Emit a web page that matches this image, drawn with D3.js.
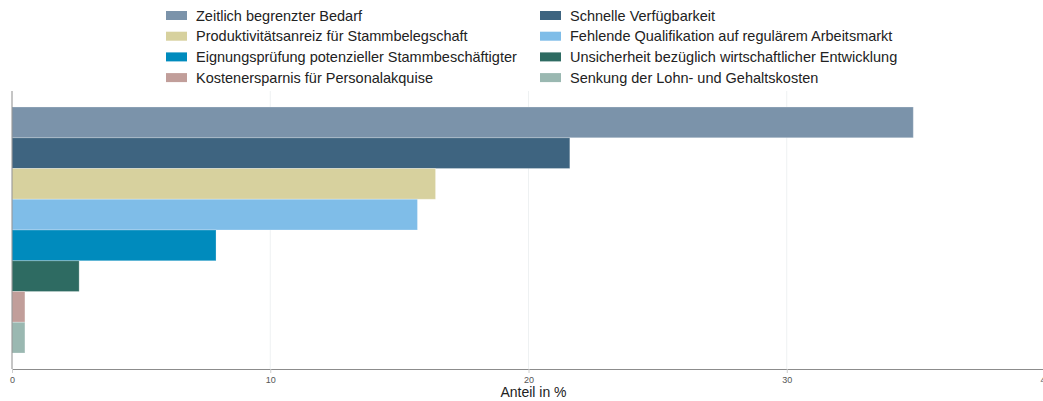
<!DOCTYPE html>
<html>
<head>
<meta charset="utf-8">
<script src="https://cdn.jsdelivr.net/npm/d3@7"></script>
<style>
    body { margin: 0; background: #fff; }
    svg { display: block; font-family: "Liberation Sans", Arial, sans-serif; }
</style>
</head>
<body>
<div id="chart"></div>
<script>
// Gründe (Reihenfolge wie die Balken von oben nach unten)
const reasons = [
    'Zeitlich begrenzter Bedarf',
    'Schnelle Verfügbarkeit',
    'Produktivitätsanreiz für Stammbelegschaft',
    'Fehlende Qualifikation auf regulärem Arbeitsmarkt',
    'Eignungsprüfung potenzieller Stammbeschäftigter',
    'Unsicherheit bezüglich wirtschaftlicher Entwicklung',
    'Kostenersparnis für Personalakquise',
    'Senkung der Lohn- und Gehaltskosten'
];
const shares = [34.9, 21.6, 16.4, 15.7, 7.9, 2.6, 0.5, 0.5];
const colors = ['#7b93aa', '#3e6480', '#d7d19e', '#7fbde8', '#008bbd', '#2e6b62', '#c19e9a', '#9ab8b1'];
const xTicks = [0, 10, 20, 30, 40];
const xTitle = 'Anteil in %';

const width = 1043, height = 401;
const plot = { left: 12, right: 1045, top: 91, bottom: 369 };

const svg = d3.select('#chart')
    .append('svg')
    .attr('width', width)
    .attr('height', height);

const x = d3.scaleLinear().domain([0, 40]).range([plot.left, plot.right]);
const y = d3.scaleBand().domain(reasons).range([plot.top, plot.bottom])
    .paddingInner(0).paddingOuter(0.52);

//gridlines
svg.append('g')
    .selectAll('line')
    .data(xTicks.filter(d => d > 0))
    .enter()
    .append('line')
    .attr('x1', d => x(d)).attr('x2', d => x(d))
    .attr('y1', plot.top).attr('y2', plot.bottom)
    .attr('stroke', '#eef1f2')
    .attr('stroke-width', 1);

//bars
svg.append('g')
    .selectAll('rect')
    .data(reasons)
    .enter()
    .append('rect')
    .attr('x', x(0))
    .attr('y', d => y(d))
    .attr('width', (d, i) => x(shares[i]) - x(0))
    .attr('height', y.bandwidth())
    .attr('fill', (d, i) => colors[i])
    .attr('stroke', '#fff')
    .attr('stroke-opacity', 0.25)
    .attr('stroke-width', 1);

//x axis
const xAxis = svg.append('g')
    .attr('transform', `translate(0,${plot.bottom})`)
    .call(d3.axisBottom(x).tickValues(xTicks).tickSize(4).tickPadding(4));
xAxis.select('.domain').attr('stroke', '#8c8c8c');
xAxis.selectAll('.tick line').attr('stroke', '#cccccc');
xAxis.selectAll('.tick text')
    .attr('fill', '#555')
    .style('font-size', '9px')
    .style('font-family', '"Liberation Sans Narrow", "Liberation Sans", sans-serif');

//y axis line
svg.append('line')
    .attr('x1', plot.left).attr('x2', plot.left)
    .attr('y1', plot.top).attr('y2', plot.bottom)
    .attr('stroke', '#8c8c8c');

//axis title
svg.append('text')
    .attr('x', (x(0) + x(40)) / 2 + 5)
    .attr('y', 397)
    .attr('text-anchor', 'middle')
    .attr('fill', '#222')
    .style('font-size', '14px')
    .text(xTitle);

//legend (2 Spalten, zeilenweise)
const legend = svg.append('g');
const item = legend.selectAll('g')
    .data(reasons)
    .enter()
    .append('g')
    .attr('transform', (d, i) => `translate(${i % 2 === 0 ? 166 : 540},${11 + Math.floor(i / 2) * 20.7})`);
item.append('rect')
    .attr('width', 21)
    .attr('height', 9)
    .attr('fill', (d, i) => colors[i]);
item.append('text')
    .attr('x', 30)
    .attr('y', 9.5)
    .attr('fill', '#222')
    .style('font-size', '14.5px')
    .text(d => d);
</script>
</body>
</html>
